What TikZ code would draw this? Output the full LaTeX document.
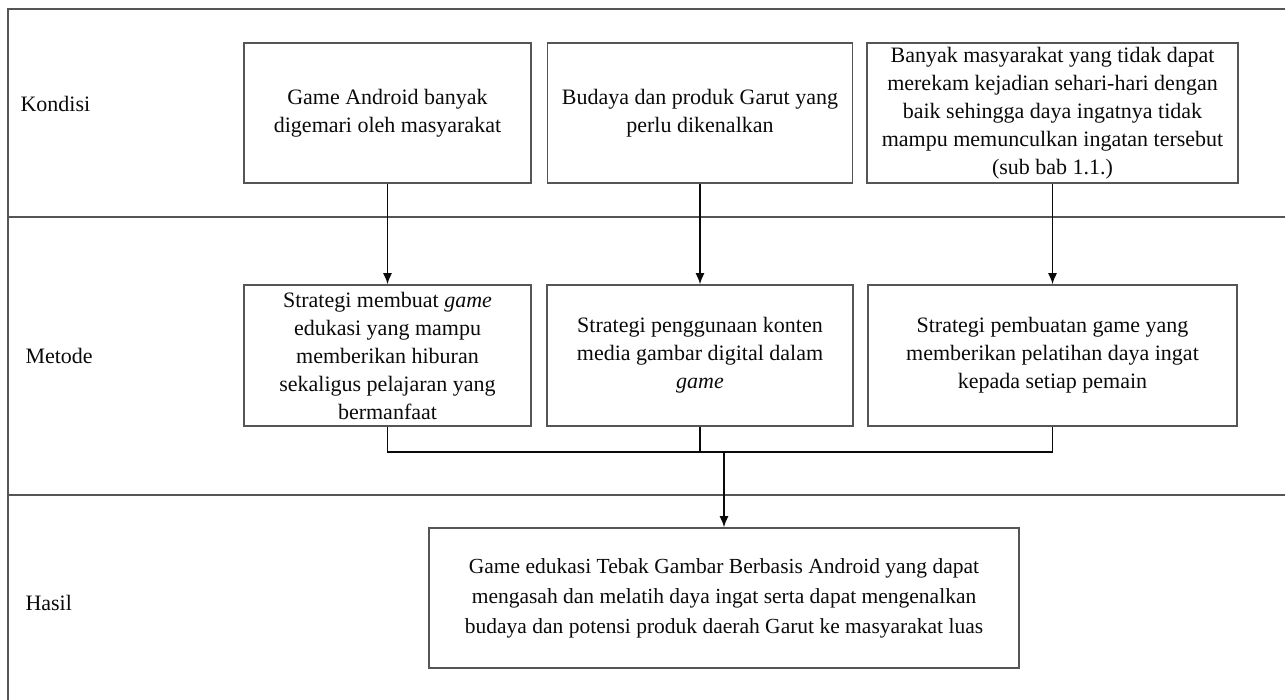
\documentclass[tikz,border=0pt]{standalone}
\usepackage{fontspec}
\setmainfont{Liberation Serif}
\usetikzlibrary{arrows.meta, positioning, calc}
\definecolor{framegray}{RGB}{85,85,85}
\definecolor{inkblack}{RGB}{10,10,10}

\begin{document}
\begin{tikzpicture}[x=1pt, y=-1pt,
    frame/.style={draw=framegray, line width=1.8pt},
    box/.style={draw=framegray, line width=1.6pt, align=center, inner sep=0pt,
        text=inkblack, font=\fontsize{22}{28}\selectfont},
    lbl/.style={anchor=west, text=inkblack, font=\fontsize{22}{28}\selectfont},
    conn/.style={draw=inkblack, line width=1.4pt},
    arr/.style={conn, -{Latex[length=11pt, width=9pt]}}]
    \useasboundingbox (0,0) rectangle (1285,700);

    % frame and rows
    \coordinate (corner) at (8,9);
    \draw[frame] (1285,9) -- (corner) -- (8,700);
    \draw[frame] (8,217) -- (1285,217);
    \draw[frame] (8,495) -- (1285,495);

    \node[lbl] (kondisi) at (17,104) {Kondisi};
    \node[lbl] (metode) at (22,356) {Metode};
    \node[lbl] (hasil) at (22,603) {Hasil};

    % kondisi
    \node[box, minimum width=287pt, minimum height=140pt] (gameAndroid) at (387.5,113)
        {Game Android banyak\\digemari oleh masyarakat};
    \node[box, minimum width=305pt, minimum height=140pt] (budaya) at (700,113)
        {Budaya dan produk Garut yang\\perlu dikenalkan};
    \node[box, minimum width=371pt, minimum height=140pt] (dayaIngat) at (1052.5,113)
        {Banyak masyarakat yang tidak dapat\\merekam kejadian sehari-hari dengan\\baik sehingga daya ingatnya tidak\\mampu memunculkan ingatan tersebut\\(sub bab 1.1.)};

    % metode
    \node[box, minimum width=287pt, minimum height=141pt] (stratGame) at (387.5,355.5)
        {Strategi membuat \textit{game}\\edukasi yang mampu\\memberikan hiburan\\sekaligus pelajaran yang\\bermanfaat};
    \node[box, minimum width=306pt, minimum height=141pt] (stratMedia) at (700,355.5)
        {Strategi penggunaan konten\\media gambar digital dalam\\\textit{game}};
    \node[box, minimum width=369pt, minimum height=141pt] (stratLatih) at (1052.5,355.5)
        {Strategi pembuatan game yang\\memberikan pelatihan daya ingat\\kepada setiap pemain};

    % hasil
    \node[box, minimum width=590pt, minimum height=140pt,
        font=\fontsize{21.5}{30}\selectfont] (gameEdukasi) at (724,598)
        {Game edukasi Tebak Gambar Berbasis Android yang dapat\\mengasah dan melatih daya ingat serta dapat mengenalkan\\budaya dan potensi produk daerah Garut ke masyarakat luas};

    \draw[arr] (gameAndroid.south) -- (stratGame.north);
    \draw[arr] (budaya.south) -- (stratMedia.north);
    \draw[arr] (dayaIngat.south) -- (stratLatih.north);

    \coordinate (join) at (724,452);
    \draw[conn] (stratGame.south) |- (stratLatih.south |- join) -- (stratLatih.south);
    \draw[conn] (stratMedia.south) -- (stratMedia.south |- join);
    \draw[arr] (join) -- (gameEdukasi.north);
\end{tikzpicture}
\end{document}
